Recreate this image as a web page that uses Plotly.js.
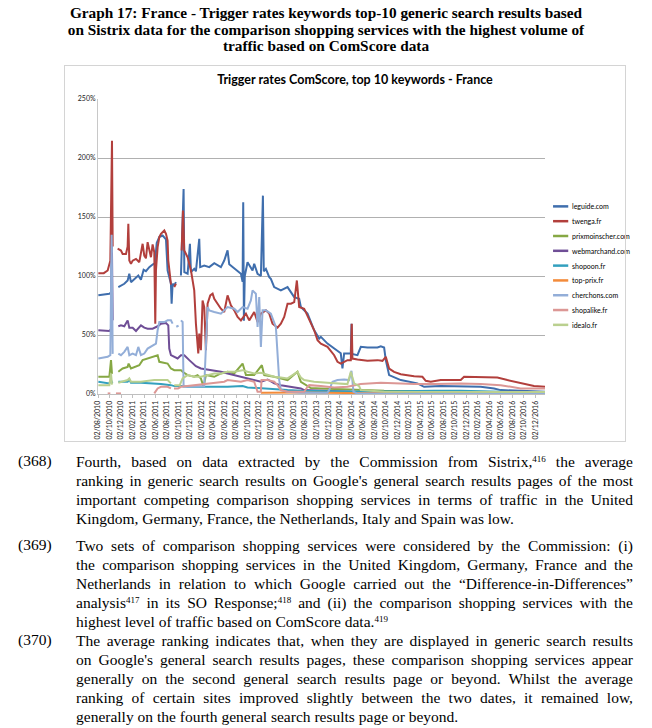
<!DOCTYPE html>
<html><head><meta charset="utf-8">
<script src="https://cdn.plot.ly/plotly-3.0.1.min.js"></script>
<style>
body{margin:0;background:#fff;width:652px;height:728px;position:relative;overflow:hidden;font-family:"Liberation Serif","Times New Roman",serif;color:#000}
#head{position:absolute;left:0;top:5px;width:652px;text-align:center;font-weight:bold;font-size:15.3px;line-height:16.5px}
#frame{position:absolute;left:64px;top:65px;width:562px;height:377px;border:1px solid #d4d4d4;box-sizing:border-box;pointer-events:none}
#chart{position:absolute;left:65px;top:66px;width:575px;height:375px}
.num{position:absolute;left:18px;font-size:15.5px}
.para{position:absolute;left:76px;width:557px;font-size:15.5px;line-height:19px}
.ln{text-align:justify;text-align-last:justify;white-space:nowrap;overflow:visible}
.ln.last{text-align-last:left}
sup{font-size:9px;line-height:0;vertical-align:5px}
</style></head>
<body>
<div id="head">Graph 17: France - Trigger rates keywords top-10 generic search results based<br>on Sistrix data for the comparison shopping services with the highest volume of<br>traffic based on ComScore data</div>
<div id="chart"></div>
<div id="frame"></div>

<div class="num" style="top:452px">(368)</div>
<div class="para" style="top:452px">
<div class="ln">Fourth, based on data extracted by the Commission from Sistrix,<sup>416</sup> the average</div>
<div class="ln">ranking in generic search results on Google's general search results pages of the most</div>
<div class="ln">important competing comparison shopping services in terms of traffic in the United</div>
<div class="ln last">Kingdom, Germany, France, the Netherlands, Italy and Spain was low.</div>
</div>

<div class="num" style="top:536px">(369)</div>
<div class="para" style="top:536px">
<div class="ln">Two sets of comparison shopping services were considered by the Commission: (i)</div>
<div class="ln">the comparison shopping services in the United Kingdom, Germany, France and the</div>
<div class="ln">Netherlands in relation to which Google carried out the “Difference-in-Differences”</div>
<div class="ln">analysis<sup>417</sup> in its SO Response;<sup>418</sup> and (ii) the comparison shopping services with the</div>
<div class="ln last">highest level of traffic based on ComScore data.<sup>419</sup></div>
</div>

<div class="num" style="top:631px">(370)</div>
<div class="para" style="top:631px">
<div class="ln">The average ranking indicates that, when they are displayed in generic search results</div>
<div class="ln">on Google's general search results pages, these comparison shopping services appear</div>
<div class="ln">generally on the second general search results page or beyond. Whilst the average</div>
<div class="ln">ranking of certain sites improved slightly between the two dates, it remained low,</div>
<div class="ln last">generally on the fourth general search results page or beyond.</div>
</div>

<script>
// x values: months elapsed since 02/08/2010; y values: trigger rate in %
const tickMonths = [0,2,4,6,8,10,12,14,16,18,20,22,24,26,28,30,32,34,36,38,40,42,44,46,48,50,52,54,56,58,60,62,64,66,68,70,72,74,76];
const tickLabels = ["02/08/2010","02/10/2010","02/12/2010","02/02/2011","02/04/2011","02/06/2011","02/08/2011","02/10/2011","02/12/2011",
 "02/02/2012","02/04/2012","02/06/2012","02/08/2012","02/10/2012","02/12/2012","02/02/2013","02/04/2013","02/06/2013","02/08/2013",
 "02/10/2013","02/12/2013","02/02/2014","02/04/2014","02/06/2014","02/08/2014","02/10/2014","02/12/2014","02/02/2015","02/04/2015",
 "02/06/2015","02/08/2015","02/10/2015","02/12/2015","02/02/2016","02/04/2016","02/06/2016","02/08/2016","02/10/2016","02/12/2016"];
const yTicks = [0,50,100,150,200,250];
const yLabels = ["0%","50%","100%","150%","200%","250%"];

const seriesNames = ["leguide.com","twenga.fr","prixmoinscher.com","webmarchand.com","shopoon.fr","top-prix.fr","cherchons.com","shopalike.fr","idealo.fr"];

const leguideM = [0.06,1.0,1.97,2.3,2.43,2.55,3.53,4.57,5.15,5.44,5.73,6.31,7.0,7.46,7.93,8.33,8.91,9.49,9.9,10.2,10.65,11.23,11.81,12.09,12.38,12.67,12.79,12.96,13.25,13.54,13.9,14.41,14.87,15.0,15.57,15.97,16.15,16.72,17.01,17.59,17.75,18.46,19.33,20.2,20.78,21.35,21.93,22.51,22.8,23.09,23.67,24.83,25.12,25.23,25.35,25.5,25.98,26.85,27.14,27.72,28.3,28.65,28.8,29.17,29.75,30.03,30.61,31.77,32.93,34.09,34.95,35.24,36.4,37.56,38.43,38.72,39.87,41.03,41.9,42.18,42.47,42.76,43.92,44.04,44.15,45.08,45.66,46.81,48.55,49.13,49.71,50.0,50.58,52.6,55.49,56.65,59.55,63.02,66.49,68.81,69.96,73.43,77.66];
const leguideV = [83.6,84,85,86,137,null,90.6,93.4,96.2,101.9,94.8,97.6,100.4,96.8,105.2,104.1,107.5,109.7,110.9,128,133,134.3,131,104.7,99,93.4,76.5,93.4,92,94.8,null,100.4,173.8,103.3,101.9,127.3,103.3,106.1,104,131.5,107.5,108.9,107.5,110.9,109,107.5,113.1,121.7,110,108.9,106.1,101.9,95,162.5,62,100,111.7,104.7,110.3,101.9,100,168.1,104,106.1,99,97.6,90.6,87.8,90.6,82.1,80.7,73.7,68.1,54,47,48.4,42.7,38.5,35.7,34.5,21.6,34.3,34.3,59.6,34,32.9,40,39.4,39.4,40.5,39.4,28.7,16.0,11.8,9,6.1,6.7,6.7,6.1,4.7,3.3,2.8,1.9];

const twengaM = [0.06,1.0,1.68,2.14,2.43,2.55,2.7,3.41,3.99,4.28,4.86,5.15,5.27,5.44,5.73,6.02,6.6,7.17,7.46,7.75,8.04,8.33,8.62,9.2,9.49,9.78,9.95,10.07,10.36,10.65,10.94,11.52,11.81,12.09,12.21,12.38,12.67,12.79,13.1,13.25,13.54,13.9,14.53,14.76,14.99,15.57,16.15,16.43,16.72,17.01,17.3,17.42,17.59,17.88,18.17,18.46,18.75,19.04,19.5,19.91,20.2,20.78,21.35,21.93,22.51,23.09,23.67,24.25,24.83,25.7,26.27,27.14,27.72,28.3,29.17,29.75,30.32,31.19,31.77,32.35,32.93,33.51,34.09,34.55,34.95,35.82,36.69,37.56,38.14,38.72,39.87,41.03,41.61,42.18,43.34,43.92,44.09,44.2,45.08,46.81,48.55,49.42,50.0,50.58,51.44,52.6,54.92,56.36,56.94,57.81,59.55,63.02,63.6,66.49,68.23,69.38,71.12,73.43,75.75,77.66];
const twengaV = [102.4,102.4,104.7,113,214.6,125,null,123.1,121.6,118.7,118.7,125,144.2,113.1,110.3,113,114.5,111.7,121.6,127.3,117.3,115,128.7,115.9,126.7,120,59.6,105,124.4,133,135.8,138.6,135.8,130,113.1,104.7,93.4,93.4,null,90.6,93.4,null,121.6,155.5,121.6,115.9,104.7,96.2,87.8,59.6,45.5,34.3,51.2,37.1,79.3,73.7,37.1,76.5,83.6,85,80.7,76.5,72.3,69.5,83.6,75.1,70.9,65.3,62.4,68.1,62.4,69.5,61,68.1,70.9,68.1,59.6,56.2,59.6,65.3,76.5,76.5,77.9,96.2,73.7,72.3,63.8,54,45.5,42.7,39.9,32.9,27.3,25.8,28.7,28.7,59.6,30,29.2,28.1,28.7,28.1,31.5,21.6,18.8,16.8,15.1,14.6,11.2,10.4,11.8,11.8,14.6,14.6,14.6,14.0,11.8,9.0,6.7,6.1];

const prixM = [0.06,1.97,2.26,2.43,2.6,3.53,4.28,5.15,5.32,5.73,6.31,7.17,7.75,8.62,9.78,10.36,10.65,12.09,12.67,13.25,14.41,14.7,15.57,16.72,17.3,17.88,18.34,18.75,20.2,21.35,22.51,23.67,25.12,25.7,27.14,28.47,28.88,30.61,32.93,34.66,35.24,36.98,38.72,43.92,49.71,77.66];
const prixV = [14.6,14.6,28.7,17,null,18.8,21.6,23.0,25.8,21.6,23,24.4,28.7,30.1,31.5,32.9,27.3,25.8,21.6,20.2,20.2,18.8,16.0,14.6,16.0,13.2,6.1,16.0,14.6,17.4,18.8,17.4,25.8,16.0,16.0,24.4,16.0,14.6,11.8,18.8,10.4,5,4.7,3.9,2.8,1.1];

const webM = [0.06,1.97,2.26,2.43,2.55,2.7,3.53,3.99,4.57,5.15,5.44,6.02,6.6,7.46,8.04,8.62,9.49,10.36,10.94,11.81,12.21,12.38,12.67,13.25,13.83,14.41,14.99,15.86,16.43,17.01,17.88,19.04,20.2,21.35,22.51,23.67,24.83,25.98,27.14,28.3,29.46,30.61,31.77,32.93,34.09,35.24,35.82,38.13,43.92,77.66];
const webV = [54,53.4,55,120,62.4,null,57.4,58.2,57.4,62.4,56.2,56.2,53.4,58.2,56.2,55.4,55.4,57.4,59.6,60.2,58.2,38.5,32.9,31.5,30.1,32.9,32.9,28.7,25.8,23.6,21.6,20.8,19.7,18.8,17.4,16,14.6,13.2,11.8,10.4,12.3,9.0,7.5,6.7,6.1,4.7,3.3,2.8,1.9,1.1];

const shopoonM = [0.06,1.97,2.26,2.5,2.6,3.53,5.15,5.44,5.73,7.46,9.78,10.94,12.67,13.25,14.41,15.57,22.51,25.12,25.98,28.3,30.61,32.93,35.24,38.72,41.03,46.81,58.39,63.02,69.96,77.66];
const shopoonV = [10.4,9.0,11.8,9,null,10.4,10.4,12.3,9.5,9.5,9.0,8.4,7.5,6.7,6.7,6.1,6.1,6.7,5.6,4.7,3.9,3.3,2.8,2.5,2.8,1.9,2.8,2.8,1.9,1.1];

const topPrixM = [28.3,35.24,44.04,52.6,63.02,77.66];
const topPrixV = [1.0,1.2,0.8,0.6,0.5,0.4];

const cherchM = [0.06,1.68,2.14,2.37,2.55,2.7,3.53,3.99,4.57,5.15,5.44,6.02,6.6,7.0,7.46,8.04,8.62,9.49,10.07,10.36,10.65,11.52,12.09,12.67,12.96,13.25,13.6,14.0,14.2,14.41,14.7,14.87,16.72,18.46,19.04,19.33,20.2,21.35,21.93,22.51,23.67,24.25,25.12,25.98,26.56,26.85,27.43,27.72,28.01,28.3,28.59,29.17,30.03,30.9,31.48,31.77,32.93,35.24,39.87,40.16,40.74,41.61,42.76,43.63,44.04,44.38,45.0,77.66];
const cherchV = [30.1,31.5,32.9,135,34,null,34.3,32.9,35.7,39.9,32.9,34.3,32.9,39.9,32.9,34.3,38.5,41.3,42.7,54,61,61,62.4,62.4,59.6,null,57,58,null,62.4,61,6.1,6.1,6.7,73.7,70.9,69.5,68.1,70.9,73.7,72.3,69.5,73.7,72.3,79.3,87.8,85,56.8,82.1,39.9,70.9,70.9,68.1,56.8,11.8,3.3,1.9,1.1,1.1,3.3,10.4,11.8,12.3,11.8,19.7,1.9,0.5,0.5];

const shopalikeM = [1.68,2.14,2.3,3.12,3.99,4.1,9.78,10.36,10.94,12.09,12.67,12.8,13.2,13.9,14.41,16.72,19.04,20.78,21.93,22.51,23.67,24.83,25.98,27.14,27.72,28.3,28.41,29.46,30.61,31.19,31.77,32.93,34.09,35.82,36.4,36.69,38.71,41.03,43.34,45.66,49.13,51.44,54.92,58.39,63.02,66.49,69.96,73.43,77.66];
const shopalikeV = [0.5,0.5,null,0.5,0.5,null,0.5,4.7,6.1,6.1,4.7,null,4.7,4.7,6.1,7.5,9.0,9.5,10.4,11.8,11.2,10.4,11.8,10.4,1.9,1.9,11.8,11.8,10.4,7.5,3.3,1.9,1.9,1.9,6.1,7.5,6.7,5.6,6.1,8.4,9.5,9.0,8.4,8.4,9.0,8.4,7.5,4.7,4.7];

const idealoM = [0.06,1.97,2.26,2.43,2.6,3.53,5.15,5.44,5.73,7.46,9.78,12.09,12.67,12.9,13.25,14.2,14.7,15.57,16.72,17.88,19.04,20.2,21.35,22.51,23.67,25.12,25.98,27.14,28.3,29.46,30.61,31.77,32.93,34.66,35.24,35.82,37.55,39.87,43.34,43.92,44.5,45.37,45.66,49.71,77.66];
const idealoV = [7.5,7.5,17.4,8,null,9.5,11.8,13.2,10.4,10.4,11.8,11.8,9.0,null,7.5,7.5,13.2,16.0,14.6,14.6,16.0,17.4,17.4,18.8,18.8,20.2,18.8,17.4,18.0,16.0,14.6,14.0,13.2,18.8,14,11.8,10.4,9.5,8.4,18.8,9.0,6.7,3.3,1.9,1.6];

const colors = ["#3F6EAD","#B23F3C","#86A844","#6F4E96","#33A0BE","#F38B3A","#93AED8","#DC9795","#BAD08F"];
const xs = [leguideM,twengaM,prixM,webM,shopoonM,topPrixM,cherchM,shopalikeM,idealoM];
const ys = [leguideV,twengaV,prixV,webV,shopoonV,topPrixV,cherchV,shopalikeV,idealoV];

const traces = seriesNames.map((n,i)=>({
  x: xs[i], y: ys[i], name: n, type:'scatter', mode:'lines',
  line:{color:colors[i], width:2}, connectgaps:false, showlegend:false
}));

const font = "Lato, 'Liberation Sans', sans-serif";

// Legend drawn as paper-anchored shapes + text (compact Excel-like spacing)
const legX0 = 1.018, legX1 = 1.052, legTextX = 1.056, legTop = 0.636, legStep = 0.0502;
const shapes = [], annotations = [];
seriesNames.forEach((n,i)=>{
  const yy = legTop - i*legStep;
  shapes.push({type:'line', xref:'paper', yref:'paper', x0:legX0, x1:legX1, y0:yy, y1:yy,
               line:{color:colors[i], width:2.5}});
  annotations.push({xref:'paper', yref:'paper', x:legTextX, y:yy, text:n, showarrow:false,
                    xanchor:'left', yanchor:'middle', font:{family:font, size:7, color:'#000'}});
});

const layout = {
  width:575, height:375,
  margin:{l:33,r:95,t:33,b:47},
  paper_bgcolor:'rgba(0,0,0,0)', plot_bgcolor:'rgba(0,0,0,0)',
  title:{text:'<b>Trigger rates ComScore, top 10 keywords - France</b>', font:{family:font,size:12.5,color:'#000'},
         x:290/575, xref:'container', xanchor:'center', y:0.965, yref:'container', yanchor:'middle'},
  xaxis:{range:[0,77.66], tickmode:'array', tickvals:tickMonths, ticktext:tickLabels, tickangle:-90,
         tickfont:{family:font,size:7,color:'#222'}, ticks:'outside', ticklen:3, tickcolor:'#c0c0c0',
         showgrid:false, zeroline:false, showline:true, linecolor:'#bfbfbf', linewidth:1, fixedrange:true},
  yaxis:{range:[0,250], tickmode:'array', tickvals:yTicks, ticktext:yLabels,
         tickfont:{family:font,size:7,color:'#222'}, showgrid:true, gridcolor:'#b0b0b0', gridwidth:1,
         zeroline:false, showline:true, linecolor:'#c8c8c8', ticks:'', fixedrange:true},
  showlegend:false,
  shapes: shapes,
  annotations: annotations
};
Plotly.newPlot('chart', traces, layout, {displayModeBar:false, staticPlot:true});
</script>
</body></html>
